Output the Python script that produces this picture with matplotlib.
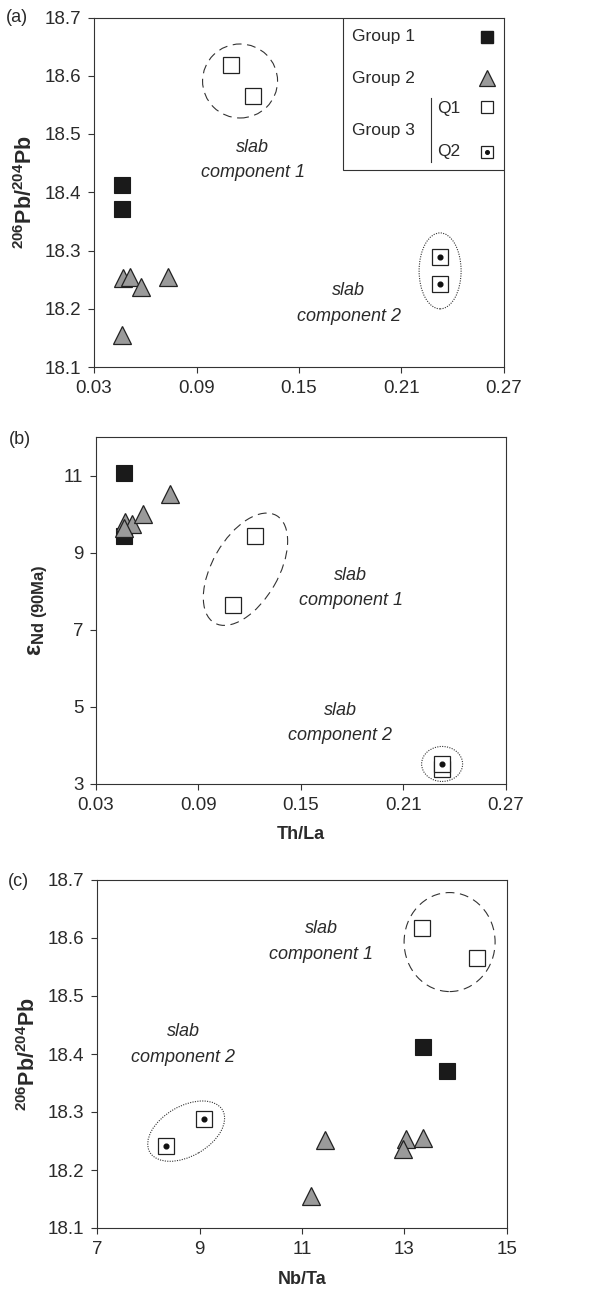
import matplotlib
matplotlib.use("Agg")

import matplotlib.pyplot as plt
from matplotlib.patches import Ellipse, Rectangle
from matplotlib.transforms import ScaledTranslation

plt.rcParams["font.family"] = ["Liberation Sans", "DejaVu Sans"]
plt.rcParams["mathtext.fontset"] = "custom"
plt.rcParams["mathtext.rm"] = "Liberation Sans"
plt.rcParams["mathtext.bf"] = "Liberation Sans:bold"
plt.rcParams["mathtext.it"] = "Liberation Sans:italic"

# ── data ─────────────────────────────────────────────────
thla_g1 = [0.0464, 0.0464]
pb_g1 = [18.412, 18.371]
eps_g1 = [11.07, 9.42]
nbta_g1 = [13.36, 13.82]

thla_g2 = [0.0468, 0.0511, 0.0573, 0.0731, 0.0464]
pb_g2 = [18.252, 18.254, 18.237, 18.255, 18.155]
eps_g2 = [9.80, 9.75, 9.99, 10.51, 9.65]
nbta_g2 = [11.45, 13.03, 12.98, 13.37, 11.17]

thla_q1 = [0.1104, 0.1233]
pb_q1 = [18.618, 18.565]
eps_q1 = [7.65, 9.42]
nbta_q1 = [13.35, 14.41]

# second point first so the upper square is drawn on top
thla_q2 = [0.2326, 0.2326]
pb_q2 = [18.242, 18.288]
eps_q2 = [3.38, 3.52]
nbta_q2 = [8.34, 9.09]

thla_ticks = [0.03, 0.09, 0.15, 0.21, 0.27]
nbta_ticks = [7, 9, 11, 13, 15]
pb_ticks = [18.1, 18.2, 18.3, 18.4, 18.5, 18.6, 18.7]
eps_ticks = [3, 5, 7, 9, 11]

PB_LABEL = r"$^{\mathbf{206}}\mathbf{Pb/}^{\mathbf{204}}\mathbf{Pb}$"
EPS_LABEL = r"ε$_{\mathbf{Nd\ (90Ma)}}$"

TRI_COLOR = "#9a9a9a"
SQ_COLOR = "#1a1a1a"
TEXT_COLOR = "#2a2a2a"

W, H = 613, 1295
fig = plt.figure(figsize=(W / 100, H / 100), dpi=100)


def px_rect(left, top, right, bottom):
    return [left / W, 1 - bottom / H, (right - left) / W, (bottom - top) / H]


def style_axes(ax):
    for s in ax.spines.values():
        s.set_color("#333333")
        s.set_linewidth(0.8)
    ax.tick_params(direction="out", length=4, width=0.8, labelsize=13.5,
                   colors="#333333", labelcolor=TEXT_COLOR, pad=5)


def plot_groups(ax, xs, ys):
    (x1, y1), (x2, y2), (xq1, yq1), (xq2, yq2) = zip(xs, ys)
    ax.plot(x1, y1, "s", ms=11, mfc=SQ_COLOR, mec=SQ_COLOR, mew=0.8, ls="none", zorder=3)
    ax.plot(x2, y2, "^", ms=13, mfc=TRI_COLOR, mec="#222222", mew=0.9, ls="none", zorder=4)
    ax.plot(xq1, yq1, "s", ms=11, mfc="white", mec="#222222", mew=0.9, ls="none", zorder=3)
    for i, (x, y) in enumerate(zip(xq2, yq2)):
        z = 5 + 2 * i
        ax.plot([x], [y], "s", ms=11, mfc="white", mec="#222222", mew=0.9, zorder=z)
        ax.plot([x], [y], "o", ms=3.4, mfc="#111111", mec="#111111", zorder=z + 1)


def ring(ax, cx, cy, w_px, h_px, angle, ls):
    tr = fig.dpi_scale_trans + ScaledTranslation(cx, cy, ax.transData)
    e = Ellipse((0, 0), w_px / 100, h_px / 100, angle=angle, transform=tr,
                fill=False, ec="#333333", lw=0.8, ls=ls, zorder=2)
    ax.add_patch(e)


def slab_text(ax, x, y, n):
    ax.text(x, y, f"slab\ncomponent {n}", ha="center", va="center", fontsize=13,
            style="italic", color=TEXT_COLOR, linespacing=1.65)


DASH = (0, (8, 5))
DOT = (0, (1, 1.2))

# ── (a) Th/La vs Pb ─────────────────────────────────────
ax_a = fig.add_axes(px_rect(94, 17.5, 504, 367))
style_axes(ax_a)
plot_groups(ax_a, [thla_g1, thla_g2, thla_q1, thla_q2], [pb_g1, pb_g2, pb_q1, pb_q2])
ax_a.set_xlim(0.03, 0.27)
ax_a.set_ylim(18.1, 18.7)
ax_a.set_xticks(thla_ticks)
ax_a.set_xticklabels([f"{t:.2f}" for t in thla_ticks])
ax_a.set_yticks(pb_ticks)
ax_a.set_yticklabels([f"{t:.1f}" for t in pb_ticks])
ax_a.set_ylabel(PB_LABEL, fontsize=15.5, labelpad=6, color=TEXT_COLOR)
ring(ax_a, 0.1155, 18.591, 75, 74, 0, DASH)
ring(ax_a, 0.2326, 18.265, 42, 76, 0, DOT)
slab_text(ax_a, 0.123, 18.455, 1)
slab_text(ax_a, 0.179, 18.209, 2)

# legend box drawn by hand (Group 3 is split into Q1 / Q2)
ax_a.add_patch(Rectangle((0.607, 0.564), 0.393, 0.436, transform=ax_a.transAxes,
                         fill=True, fc="white", ec="#333333", lw=0.8, zorder=9))
leg_kw = dict(transform=ax_a.transAxes, ha="left", va="center", fontsize=12.5,
              color=TEXT_COLOR, zorder=10)
ax_a.text(0.629, 0.945, "Group 1", **leg_kw)
ax_a.text(0.629, 0.826, "Group 2", **leg_kw)
ax_a.text(0.629, 0.678, "Group 3", **leg_kw)
ax_a.text(0.836, 0.741, "Q1", **leg_kw)
ax_a.text(0.836, 0.616, "Q2", **leg_kw)
ax_a.plot([0.821, 0.821], [0.587, 0.769], color="#333333", lw=0.8,
          transform=ax_a.transAxes, zorder=10)
mk = dict(transform=ax_a.transAxes, ls="none", zorder=11, clip_on=False)
ax_a.plot([0.958], [0.945], "s", ms=9, mfc=SQ_COLOR, mec=SQ_COLOR, **mk)
ax_a.plot([0.958], [0.826], "^", ms=11, mfc=TRI_COLOR, mec="#222222", mew=0.9, **mk)
ax_a.plot([0.958], [0.745], "s", ms=9, mfc="white", mec="#222222", mew=0.9, **mk)
ax_a.plot([0.958], [0.616], "s", ms=9, mfc="white", mec="#222222", mew=0.9, **mk)
ax_a.plot([0.958], [0.616], "o", ms=2.6, mfc="#111111", mec="#111111", **mk)

# ── (b) Th/La vs eps Nd ─────────────────────────────────
ax_b = fig.add_axes(px_rect(96, 437, 506, 784))
style_axes(ax_b)
plot_groups(ax_b, [thla_g1, thla_g2, thla_q1, thla_q2], [eps_g1, eps_g2, eps_q1, eps_q2])
ax_b.set_xlim(0.03, 0.27)
ax_b.set_ylim(3, 12)
ax_b.set_xticks(thla_ticks)
ax_b.set_xticklabels([f"{t:.2f}" for t in thla_ticks])
ax_b.set_yticks(eps_ticks)
ax_b.set_ylabel(EPS_LABEL, fontsize=17, fontweight="bold", labelpad=10, color=TEXT_COLOR)
ax_b.set_xlabel("Th/La", fontsize=13, fontweight="bold", labelpad=9, color=TEXT_COLOR)
ring(ax_b, 0.1175, 8.57, 124, 66, 60, DASH)
ring(ax_b, 0.2326, 3.52, 41, 35, 0, DOT)
slab_text(ax_b, 0.179, 8.08, 1)
slab_text(ax_b, 0.173, 4.58, 2)

# ── (c) Nb/Ta vs Pb ─────────────────────────────────────
ax_c = fig.add_axes(px_rect(97, 880, 507, 1228))
style_axes(ax_c)
plot_groups(ax_c, [nbta_g1, nbta_g2, nbta_q1, nbta_q2], [pb_g1, pb_g2, pb_q1, pb_q2])
ax_c.set_xlim(7, 15)
ax_c.set_ylim(18.1, 18.7)
ax_c.set_xticks(nbta_ticks)
ax_c.set_yticks(pb_ticks)
ax_c.set_yticklabels([f"{t:.1f}" for t in pb_ticks])
ax_c.set_ylabel(PB_LABEL, fontsize=15.5, labelpad=6, color=TEXT_COLOR)
ax_c.set_xlabel("Nb/Ta", fontsize=13, fontweight="bold", labelpad=10, color=TEXT_COLOR)
ring(ax_c, 13.88, 18.593, 91, 99, 0, DASH)
ring(ax_c, 8.74, 18.267, 84, 50, 30, DOT)
slab_text(ax_c, 11.38, 18.594, 1)
slab_text(ax_c, 8.68, 18.416, 2)

# panel letters
for lbl, y_px, x_px in [("(a)", 17, 17), ("(b)", 440, 20), ("(c)", 882, 18)]:
    fig.text(x_px / W, 1 - y_px / H, lbl, ha="center", va="center", fontsize=13,
             color=TEXT_COLOR)

fig.savefig("out.png", dpi=100)
